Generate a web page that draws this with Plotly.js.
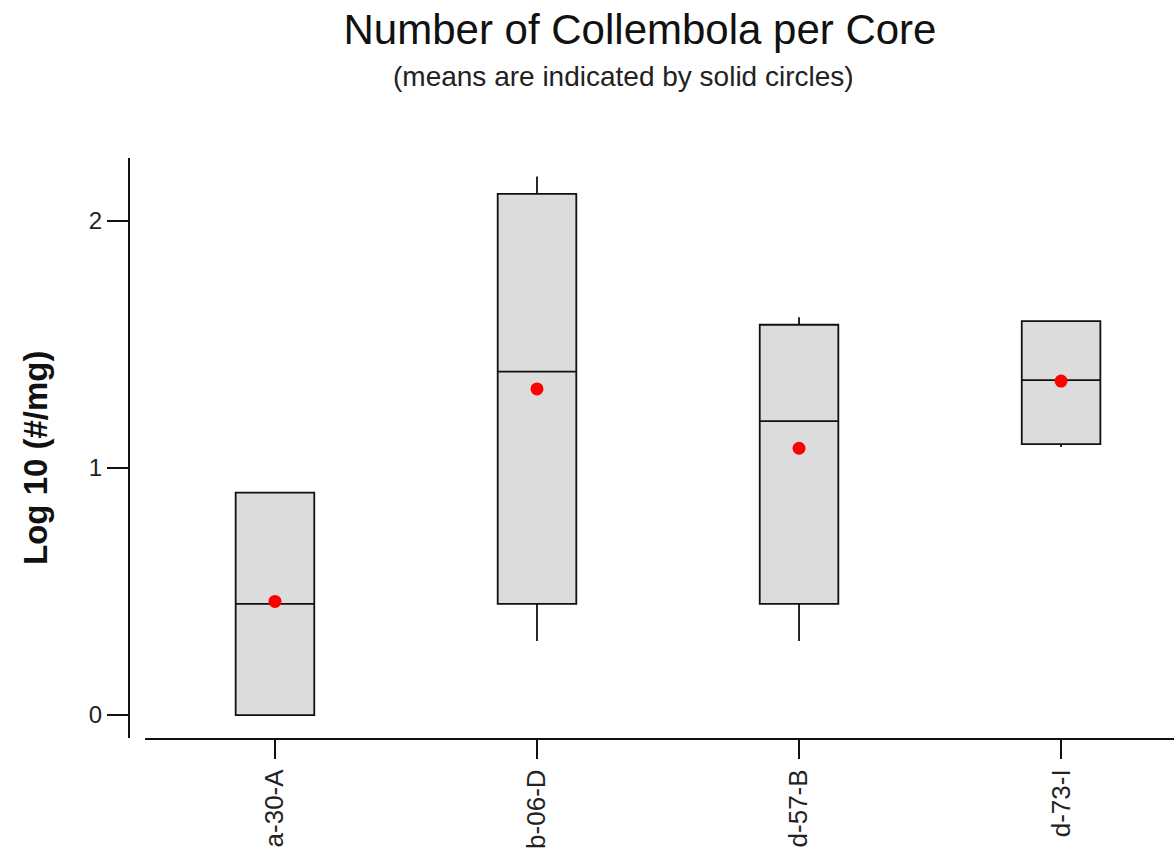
<!DOCTYPE html>
<html>
<head>
<meta charset="utf-8">
<script src="https://cdn.plot.ly/plotly-3.0.1.min.js"></script>
<style>html,body{margin:0;padding:0;background:#fff;}#chart{width:1174px;height:860px;}</style>
</head>
<body>
<div id="chart"></div>
<script>
// Data
const categories = ["a-30-A", "b-06-D", "d-57-B", "d-73-I"];
const lowerWhisker = [0.00, 0.30, 0.30, 1.085];
const q1Values     = [0.00, 0.45, 0.45, 1.097];
const medianValues = [0.45, 1.39, 1.19, 1.356];
const q3Values     = [0.90, 2.11, 1.58, 1.595];
const upperWhisker = [0.90, 2.18, 1.61, 1.595];
const meanValues   = [0.46, 1.32, 1.08, 1.352];
const yTickValues  = [0, 1, 2];
const yTickLabels  = ["0", "1", "2"];

const xIdx = categories.map((c, i) => i);

const boxTrace = {
  type: "box",
  x: xIdx,
  q1: q1Values,
  median: medianValues,
  q3: q3Values,
  lowerfence: lowerWhisker,
  upperfence: upperWhisker,
  width: 0.30,
  whiskerwidth: 0,
  fillcolor: "#dcdcdc",
  line: {color: "#111", width: 1.8},
  boxpoints: false,
  hoverinfo: "skip",
  showlegend: false
};

const meanTrace = {
  type: "scatter",
  mode: "markers",
  x: xIdx,
  y: meanValues,
  marker: {color: "#ff0000", size: 13, symbol: "circle"},
  showlegend: false,
  hoverinfo: "skip"
};

const W = 1174, H = 860;
const ml = 129, mr = 0, mt = 158, mb = 119;
const plotW = W - ml - mr;
const plotH = H - mt - mb;

const layout = {
  width: W, height: H,
  paper_bgcolor: "#fff", plot_bgcolor: "#fff",
  margin: {l: ml, r: mr, t: mt, b: mb, pad: 0},
  font: {family: "Liberation Sans, Arial, sans-serif", color: "#111"},
  title: {
    text: "Number of Collembola per Core",
    font: {size: 42, color: "#111"},
    x: (640 - ml) / plotW, xref: "paper", xanchor: "center",
    y: 1 - 29 / H, yref: "container", yanchor: "middle"
  },
  annotations: [{
    text: "(means are indicated by solid circles)",
    xref: "paper", yref: "paper",
    x: (623 - ml) / plotW, y: 1 + (mt - 77) / plotH,
    xanchor: "center", yanchor: "middle",
    showarrow: false,
    font: {size: 28, color: "#222"}
  }, {
    text: "<b>Log 10 (#/mg)</b>",
    xref: "paper", yref: "paper",
    x: (35 - ml) / plotW, y: 1 - (458 - mt) / plotH,
    xanchor: "center", yanchor: "middle",
    textangle: -90,
    showarrow: false,
    font: {size: 33, color: "#111"}
  }],
  xaxis: {
    domain: [16 / plotW, 1],
    range: [-0.496, 3.431],
    tickvals: xIdx,
    ticktext: categories,
    tickangle: -90,
    ticks: "outside", ticklen: 19, tickwidth: 1.5, tickcolor: "#111",
    showline: true, linecolor: "#111", linewidth: 2,
    showgrid: false, zeroline: false,
    tickfont: {size: 26, color: "#222"},
    anchor: "y"
  },
  yaxis: {
    domain: [3 / plotH, 1],
    range: [-0.093, 2.255],
    tickvals: yTickValues,
    ticktext: yTickLabels,
    ticks: "outside", ticklen: 21, tickwidth: 1.5, tickcolor: "#111",
    showline: true, linecolor: "#111", linewidth: 2,
    showgrid: false, zeroline: false,
    tickfont: {size: 24, color: "#222"},
    anchor: "free", position: 0
  }
};

Plotly.newPlot("chart", [boxTrace, meanTrace], layout, {displayModeBar: false, staticPlot: true});
</script>
</body>
</html>
